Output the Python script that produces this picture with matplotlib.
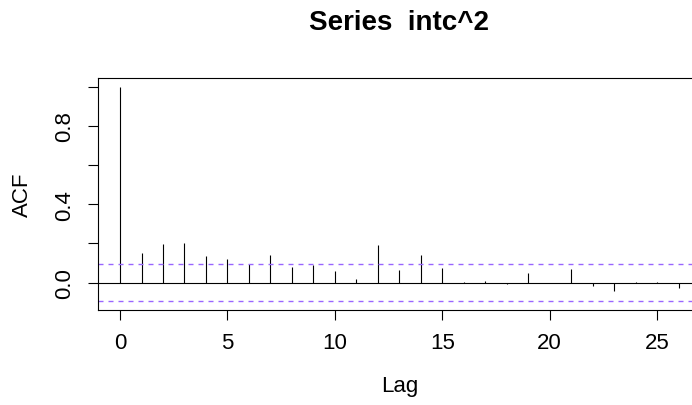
import matplotlib
matplotlib.use("Agg")
import matplotlib.pyplot as plt

# data
lags = list(range(27))
acf_vals = [1.0, 0.150, 0.198, 0.203, 0.138, 0.123, 0.097, 0.140, 0.082, 0.090,
            0.058, 0.020, 0.191, 0.066, 0.143, 0.075, 0.005, 0.010, -0.005, 0.048,
            -0.002, 0.072, -0.019, -0.041, 0.005, 0.005, -0.027]
ci = 0.094
x_ticks = [0, 5, 10, 15, 20, 25]
y_ticks = [0.0, 0.2, 0.4, 0.6, 0.8, 1.0]
y_tick_labels = ["0.0", "", "0.4", "", "0.8", ""]
title = "Series  intc^2"
xlabel = "Lag"
ylabel = "ACF"

plt.rcParams['font.family'] = ['Liberation Sans', 'DejaVu Sans']

W, H = 692, 406
fig = plt.figure(figsize=(W / 100, H / 100), dpi=100)
ax = fig.add_axes([97.7 / W, 1 - 310.7 / H, 603.3 / W, (310.7 - 79) / H])

ax.vlines(lags, 0, acf_vals, colors='black', linewidth=0.8)
ax.axhline(0, color='black', linewidth=0.8)
for c in (ci, -ci):
    ax.axhline(c, color='#9966FF', linewidth=1.0, linestyle=(0, (3.6, 3.6)))

ax.set_xlim(-1.04, 27.04)
ax.set_ylim(-0.138, 1.044)
ax.set_xticks(x_ticks)
ax.set_xticklabels([str(t) for t in x_ticks])
ax.set_yticks(y_ticks)
ax.set_yticklabels(y_tick_labels, rotation=90, va='center')

for s in ax.spines.values():
    s.set_linewidth(0.8)
    s.set_color('black')
ax.tick_params(axis='both', direction='out', length=7.2, width=0.8, labelsize=16)
ax.tick_params(axis='x', pad=9)
ax.tick_params(axis='y', pad=9)

cx = (97.7 + 701) / 2 / W
fig.text(cx, 1 - 23 / H, title, ha='center', va='center', fontsize=20, fontweight='bold')
fig.text(cx, 1 - 387 / H, xlabel, ha='center', va='center', fontsize=16)
fig.text(22.5 / W, 1 - 195 / H, ylabel, ha='center', va='center', fontsize=16, rotation=90)

fig.savefig("out.png", dpi=100)
